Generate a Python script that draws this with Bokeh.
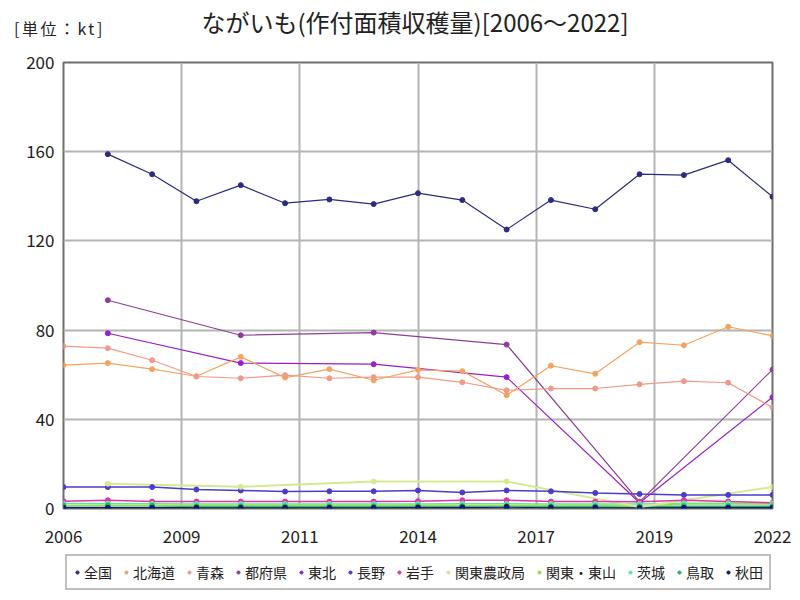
from bokeh.plotting import figure
from bokeh.models import Legend, LegendItem, Div, FixedTicker, CustomJSTickFormatter, Range1d
from bokeh.layouts import column
from bokeh.embed import file_html
from bokeh.resources import INLINE

years_all = list(range(2006, 2023))
years_nat = list(range(2007, 2023))
years_3 = [2007, 2010, 2013, 2016, 2019, 2022]

zenkoku = [158.9, 149.9, 137.8, 145.0, 136.9, 138.6, 136.5, 141.4, 138.3, 125.1, 138.3, 134.2, 149.9, 149.5, 156.2, 139.8]
hokkaido = [64.3, 65.2, 62.5, 59.3, 68.0, 58.7, 62.5, 57.5, 62.2, 61.6, 50.8, 64.0, 60.4, 74.6, 73.2, 81.5, 77.4]
aomori = [72.8, 71.9, 66.5, 59.2, 58.4, 59.8, 58.4, 58.9, 58.9, 56.6, 53.0, 53.8, 53.8, 55.7, 57.1, 56.4, 45.3]
tofuken = [93.4, 77.7, 78.9, 73.5, 3.0, 62.3]
tohoku = [78.6, 65.2, 64.7, 58.9, 2.6, 49.9]
nagano = [9.6, 9.6, 9.6, 8.5, 8.1, 7.6, 7.7, 7.7, 8.1, 7.2, 8.1, 7.7, 7.0, 6.5, 6.1, 6.1, 6.1]
iwate = [3.3, 3.7, 3.1, 3.1, 3.1, 3.1, 3.1, 3.1, 3.3, 3.7, 3.7, 3.1, 3.1, 3.0, 3.7, 3.1, 2.6]
kanto_nosei = [11.1, 9.7, 12.1, 12.1, 0.7, 9.6]
kanto_tozan = [1.4, 1.4, 1.4, 1.3, 1.3, 1.3, 1.3, 1.3, 1.3, 1.4, 1.4, 1.3, 1.3, 1.0, 2.0, 2.0, 2.0]
ibaraki = [2.2, 2.2, 2.1, 2.0, 2.0, 2.0, 2.0, 2.0, 2.0, 2.1, 2.1, 2.0, 2.0, 2.0, 2.3, 2.3, 2.3]
tottori = [1.2, 1.3, 1.2, 0.9, 0.9, 0.9, 0.9, 0.9, 1.0, 1.0, 1.1, 0.9, 0.9, 0.9, 1.0, 1.0, 1.0]
akita = [0.3, 0.3, 0.3, 0.3, 0.3, 0.3, 0.3, 0.3, 0.4, 0.5, 0.7, 0.4, 0.4, 0.3, 0.3, 0.3, 0.3]

series = [
    ("全国", years_nat, zenkoku, "#2b2b80", 1.2),
    ("北海道", years_all, hokkaido, "#f4a460", 1.2),
    ("青森", years_all, aomori, "#f09a8a", 1.2),
    ("都府県", years_3, tofuken, "#8e3e98", 1.2),
    ("東北", years_3, tohoku, "#9b1fc8", 1.2),
    ("長野", years_all, nagano, "#4b3ccd", 1.5),
    ("岩手", years_all, iwate, "#e632a8", 1.5),
    ("関東農政局", years_3, kanto_nosei, "#d4ea90", 2.0),
    ("関東・東山", years_all, kanto_tozan, "#94e04c", 1.5),
    ("茨城", years_all, ibaraki, "#5ee6a0", 1.5),
    ("鳥取", years_all, tottori, "#22b070", 1.5),
    ("秋田", years_all, akita, "#14146e", 1.5),
]

FONT = "Noto Sans CJK JP"
TITLE = "ながいも(作付面積収穫量)[2006～2022]"
UNIT = "[単位：kt]"

header = Div(width=792, height=48, margin=(0, 0, 0, 0), text=(
    '<div style="position:relative;width:792px;height:48px;font-family:\'Noto Sans CJK JP\';color:#222;">'
    '<span style="position:absolute;left:14px;top:19px;font-size:16px;line-height:18px;letter-spacing:2.5px;white-space:nowrap;">' + UNIT + '</span>'
    '<span style="position:absolute;left:0px;width:830px;top:7px;font-size:24px;line-height:30px;text-align:center;white-space:nowrap;">' + TITLE + '</span>'
    '</div>'))

p = figure(width=792, height=500, output_backend="svg", toolbar_location=None,
           x_range=Range1d(2006, 2022), y_range=Range1d(0, 200),
           min_border_left=63, min_border_right=20, min_border_top=14, min_border_bottom=40,
           margin=(0, 0, 0, 0))
p.title.visible = False
p.background_fill_color = "white"
p.border_fill_color = "white"
p.outline_line_color = "#6e6e6e"
p.outline_line_width = 2

p.xaxis.ticker = FixedTicker(ticks=[2006 + 16 * k / 6 for k in range(7)])
p.xaxis.formatter = CustomJSTickFormatter(code="return Math.round(tick).toString();")
p.yaxis.ticker = FixedTicker(ticks=[0, 40, 80, 120, 160, 200])
for ax in (p.xaxis[0], p.yaxis[0]):
    ax.axis_line_color = None
    ax.major_tick_line_color = None
    ax.minor_tick_line_color = None
    ax.major_label_text_font = FONT
    ax.major_label_text_font_size = "17px"
    ax.major_label_text_color = "#222222"
p.xaxis.major_label_standoff = 15
p.yaxis.major_label_standoff = 3
p.xgrid.grid_line_color = "#b4b4b4"
p.ygrid.grid_line_color = "#b4b4b4"
p.xgrid.grid_line_width = 2
p.ygrid.grid_line_width = 2

for name, xs, ys, color, lw in reversed(series):
    p.line(xs, ys, line_color=color, line_width=lw)
for name, xs, ys, color, lw in series:
    p.scatter(xs, ys, size=5, fill_color=color, line_color=color)

# legend strip below the chart (no axes); its frame lines up with the chart frame
lf = figure(width=792, height=44, output_backend="svg", toolbar_location=None,
            x_axis_type=None, y_axis_type=None,
            x_range=Range1d(0, 1), y_range=Range1d(0, 1),
            min_border_left=0, min_border_right=0, min_border_top=0, min_border_bottom=0,
            margin=(0, 0, 0, 0))
lf.title.visible = False
lf.outline_line_color = None
lf.background_fill_color = "white"
lf.border_fill_color = "white"
nan = float("nan")
items = []
for name, xs, ys, color, lw in series:
    r = lf.scatter(x=[nan], y=[nan], size=7, fill_color=color, line_color=color)
    items.append(LegendItem(label=name, renderers=[r]))
legend = Legend(items=items, orientation="horizontal", location=(2, 2),
                label_text_font=FONT, label_text_font_size="14px", label_text_color="#222222",
                glyph_width=8, glyph_height=8, label_standoff=3, spacing=10,
                padding=6, margin=0, border_line_color="#808080", border_line_width=2,
                background_fill_color="white", background_fill_alpha=1.0)
lf.add_layout(legend)

layout = column(header, p, lf, spacing=0, margin=(0, 0, 0, 0))
open("out.html", "w").write(file_html(layout, INLINE))
